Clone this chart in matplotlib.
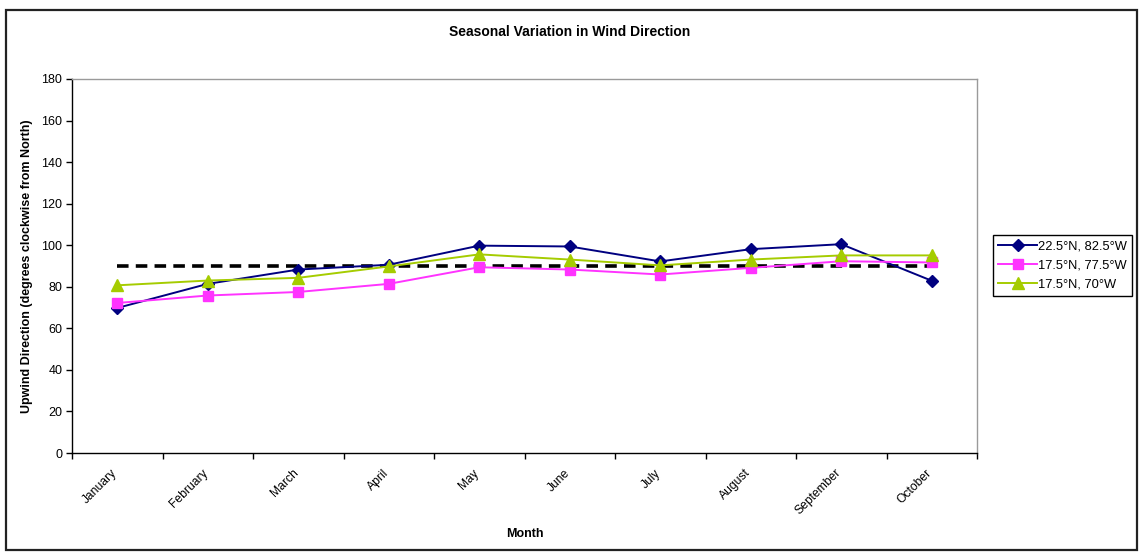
import matplotlib
matplotlib.use("Agg")
import matplotlib.pyplot as plt
from matplotlib.patches import Rectangle
from matplotlib.transforms import ScaledTranslation

plt.rcParams['font.family'] = ['Liberation Sans', 'DejaVu Sans']

months = ["January", "February", "March", "April", "May", "June",
          "July", "August", "September", "October"]
site_a = [69.8, 81.4, 88.3, 90.6, 99.8, 99.4, 92.2, 98.1, 100.5, 82.9]
site_b = [72.2, 75.8, 77.5, 81.4, 89.4, 88.3, 85.9, 89.1, 92.3, 91.7]
site_c = [80.7, 83.0, 84.3, 89.8, 95.6, 93.1, 90.3, 93.1, 95.1, 95.1]
reference = [90] * len(months)

labels = ["22.5°N, 82.5°W", "17.5°N, 77.5°W", "17.5°N, 70°W"]

fig = plt.figure(figsize=(11.39, 5.52), dpi=100)
ax = fig.add_axes([72 / 1139, 1 - 453 / 552, (977 - 72) / 1139, (453 - 79) / 552])

x = list(range(len(months)))
ax.plot(x, reference, color='black', lw=2.6, dashes=(3.2, 2.0), zorder=2)
la, = ax.plot(x, site_a, color='#000080', lw=1.4, marker='D', ms=6,
              markerfacecolor='#000080', markeredgecolor='#000080', label=labels[0], zorder=3)
lb, = ax.plot(x, site_b, color='#FF33FF', lw=1.4, marker='s', ms=7,
              markerfacecolor='#FF33FF', markeredgecolor='#FF33FF', label=labels[1], zorder=3)
lc, = ax.plot(x, site_c, color='#A5CC00', lw=1.4, marker='^', ms=8,
              markerfacecolor='#A5CC00', markeredgecolor='#A5CC00', label=labels[2], zorder=3)

ax.set_xlim(-0.5, len(months) - 0.5)
ax.set_ylim(0, 180)
ax.set_yticks(range(0, 181, 20))
ax.tick_params(axis='y', labelsize=9, length=4, width=1, direction='out', pad=3)

ax.set_xticks(x)
ax.set_xticklabels(months, rotation=45, ha='right', rotation_mode='anchor', fontsize=8.7)
ax.tick_params(axis='x', which='major', length=0, pad=10)
shift = ScaledTranslation(-6 / 100, 0, fig.dpi_scale_trans)
for lbl in ax.get_xticklabels():
    lbl.set_transform(lbl.get_transform() + shift)
ax.set_xticks([i - 0.5 for i in range(len(months) + 1)], minor=True)
ax.tick_params(axis='x', which='minor', length=4, width=1, direction='out')

for side in ['top', 'right']:
    ax.spines[side].set_color('#9a9a9a')
    ax.spines[side].set_linewidth(1)
for side in ['left', 'bottom']:
    ax.spines[side].set_color('black')
    ax.spines[side].set_linewidth(1)

ax.set_xlabel("Month", fontsize=9, fontweight='bold', labelpad=8)
ax.set_ylabel("Upwind Direction (degrees clockwise from North)", fontsize=9, fontweight='bold', labelpad=6)
fig.text(570 / 1139, 1 - 32 / 552, "Seasonal Variation in Wind Direction",
         ha='center', va='center', fontsize=10, fontweight='bold')

leg = fig.legend(handles=[la, lb, lc], loc='upper left',
                 bbox_to_anchor=(993 / 1139, 1 - 235 / 552), fontsize=9.3,
                 frameon=True, fancybox=False, edgecolor='black', framealpha=1,
                 handlelength=3.0, handletextpad=0.1, borderpad=0.4,
                 labelspacing=0.55, borderaxespad=0)
leg.get_frame().set_linewidth(1)

fig.add_artist(Rectangle((6 / 1139, 1 - 550 / 552), (1137 - 6) / 1139, (550 - 10) / 552,
                         transform=fig.transFigure, fill=False, edgecolor='#222222', lw=1.6))

fig.savefig("out.png", dpi=100)
